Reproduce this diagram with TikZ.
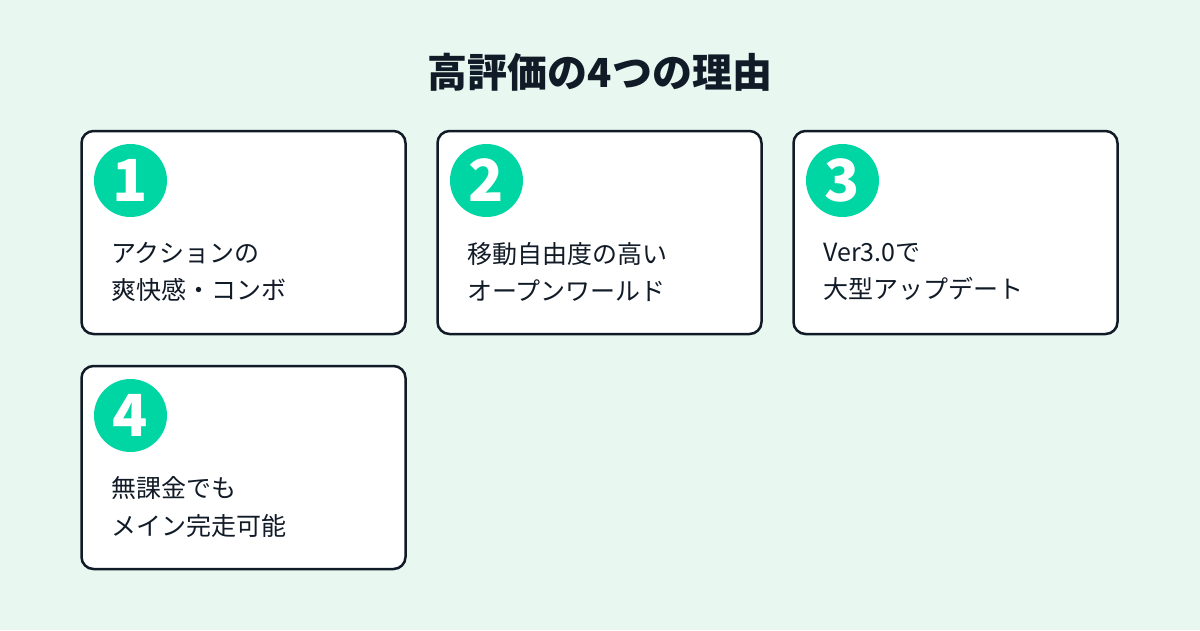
\documentclass[tikz,border=0pt]{standalone}
\usepackage{fontspec}
\setmainfont{Noto Sans CJK JP}
\usepackage{tikz}

\definecolor{bgmint}{HTML}{E8F7F0}
\definecolor{inkdark}{HTML}{111B27}
\definecolor{badgegreen}{HTML}{00D6A4}

\tikzset{
  card/.style={draw=inkdark, line width=2.5pt, fill=white, rounded corners=12pt,
    minimum width=324pt, minimum height=203pt, inner sep=0pt},
  badge/.style={circle, fill=badgegreen, minimum size=73pt, inner sep=0pt,
    text=white, font=\bfseries\fontsize{58}{58}\selectfont},
  cardtext/.style={anchor=west, align=left, inner sep=0pt, text=inkdark,
    font=\fontsize{25}{37.5}\selectfont}
}

\begin{document}
\begin{tikzpicture}[x=1pt, y=-1pt]
		% Background
		\fill[bgmint] (0,0) rectangle (1200,630);
		\useasboundingbox (0,0) rectangle (1200,630);
	
		% Title
		\node[text=inkdark, font=\bfseries\fontsize{40}{40}\selectfont] (title) at (600,72) {高評価の4つの理由};
	
		% Card 1
		\node[card] (card1) at (243.5,232.5) {};
		\node[badge] (num1) at (130.5,180.5) {1};
		\node[cardtext] (text1) at (111,272) {アクションの\\爽快感・コンボ};
	
		% Card 2
		\node[card] (card2) at (599.5,232.5) {};
		\node[badge] (num2) at (486.5,180.5) {2};
		\node[cardtext] (text2) at (467,272) {移動自由度の高い\\オープンワールド};
	
		% Card 3
		\node[card] (card3) at (955.5,232.5) {};
		\node[badge] (num3) at (842.5,180.5) {3};
		\node[cardtext] (text3) at (823,272) {Ver3.0で\\大型アップデート};
	
		% Card 4
		\node[card] (card4) at (243.5,467.5) {};
		\node[badge] (num4) at (130.5,415.5) {4};
		\node[cardtext] (text4) at (111,507) {無課金でも\\メイン完走可能};
	
	\end{tikzpicture}
\end{document}
